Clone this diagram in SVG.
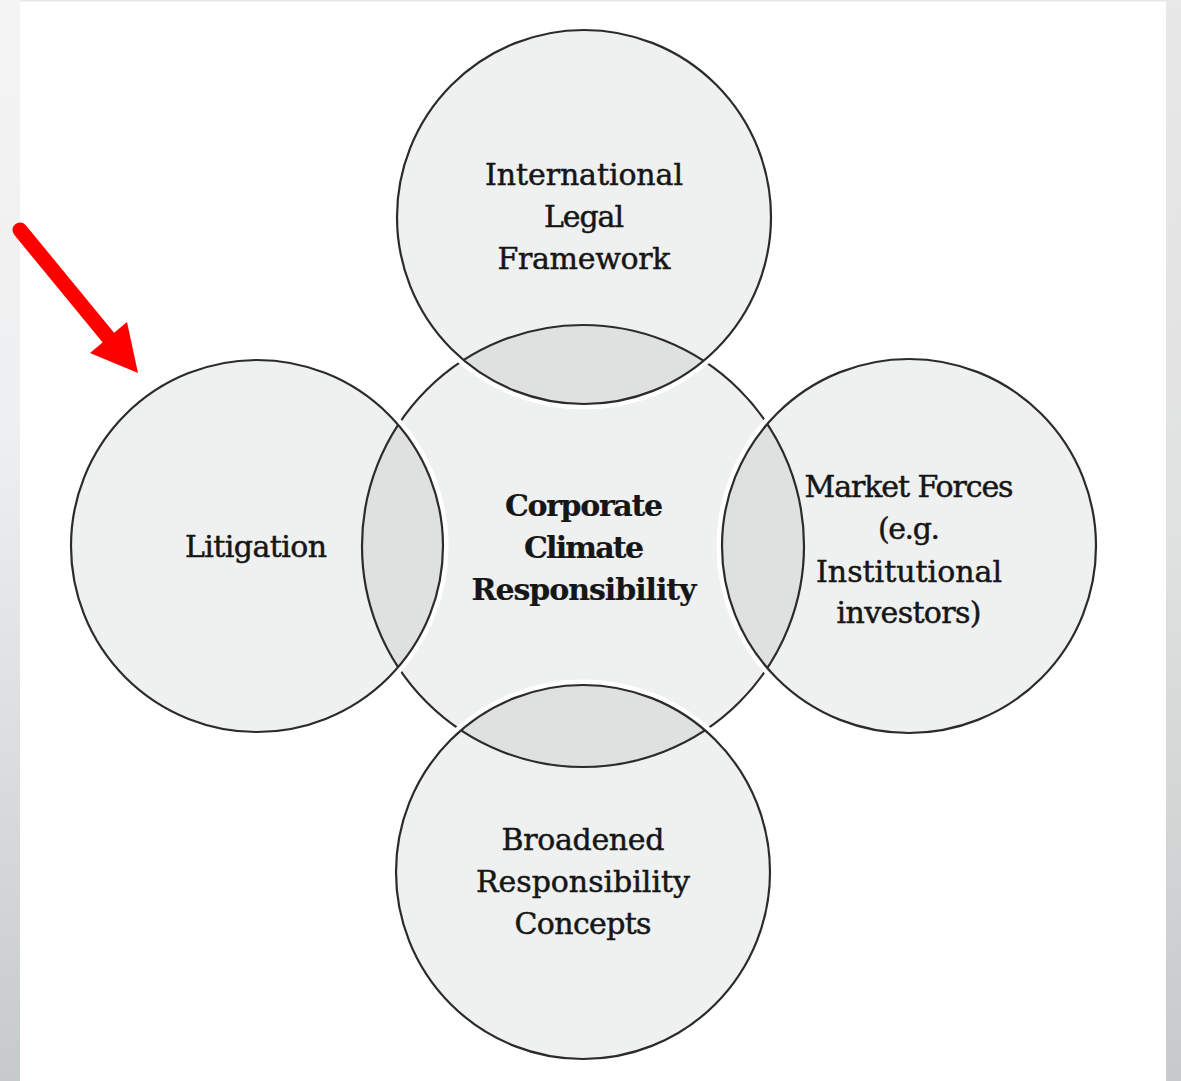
<svg xmlns="http://www.w3.org/2000/svg" width="1181" height="1081" viewBox="0 0 1181 1081">
<style>
.fill{fill:#eff0f0}
.lens{fill:#dfe0e0}
.ol{fill:none;stroke:#2b2b2b;stroke-width:2.2}
.halo{fill:none;stroke:#ffffff;stroke-width:5}
.t{font-family:"DejaVu Serif","Liberation Serif",serif;font-size:30px;fill:#161616;stroke:#161616;stroke-width:0.5;text-anchor:middle}
.b{font-weight:bold;stroke-width:0.2}
</style>
<defs>
<linearGradient id="lg" x1="0" y1="0" x2="0" y2="1">
<stop offset="0" stop-color="#f4f4f5"/>
<stop offset="0.4" stop-color="#eeeff0"/>
<stop offset="1" stop-color="#c7cacb"/>
</linearGradient>
<linearGradient id="rg" x1="0" y1="0" x2="0" y2="1">
<stop offset="0" stop-color="#e8e8e8"/>
<stop offset="0.5" stop-color="#e0e1e1"/>
<stop offset="1" stop-color="#c7cacb"/>
</linearGradient>
<clipPath id="cT"><circle cx="584" cy="217" r="187"/></clipPath>
<clipPath id="cL"><circle cx="257" cy="546" r="186"/></clipPath>
<clipPath id="cR"><circle cx="909" cy="546" r="187"/></clipPath>
<clipPath id="cB"><circle cx="583" cy="872" r="187"/></clipPath>
</defs>
<rect x="0" y="0" width="1181" height="1081" fill="#ffffff"/>
<rect x="0" y="0" width="20" height="1081" fill="url(#lg)"/>
<rect x="1166" y="0" width="15" height="1081" fill="url(#rg)"/>
<rect x="20" y="0" width="1146" height="1.5" fill="#e6e6e6"/>

<g id="fills">
<circle class="fill" cx="583" cy="546" r="221"/>
<circle class="fill" cx="584" cy="217" r="187"/>
<circle class="fill" cx="257" cy="546" r="186"/>
<circle class="fill" cx="909" cy="546" r="187"/>
<circle class="fill" cx="583" cy="872" r="187"/>
<circle class="lens" cx="583" cy="546" r="221" clip-path="url(#cT)"/>
<circle class="lens" cx="583" cy="546" r="221" clip-path="url(#cL)"/>
<circle class="lens" cx="583" cy="546" r="221" clip-path="url(#cR)"/>
<circle class="lens" cx="583" cy="546" r="221" clip-path="url(#cB)"/>
</g>

<g id="node-center">
<circle class="ol" cx="583" cy="546" r="221"/>
</g>

<g id="halos">
<circle class="halo" cx="584" cy="217" r="190"/>
<circle class="halo" cx="257" cy="546" r="189"/>
<circle class="halo" cx="909" cy="546" r="190"/>
<circle class="halo" cx="583" cy="872" r="190"/>
</g>

<g id="node-top">
<circle class="ol" cx="584" cy="217" r="187"/>
<text class="t" x="584" y="185" textLength="198" lengthAdjust="spacing">International</text>
<text class="t" x="584" y="227" textLength="80" lengthAdjust="spacing">Legal</text>
<text class="t" x="584" y="269" textLength="173" lengthAdjust="spacing">Framework</text>
</g>

<g id="node-left">
<circle class="ol" cx="257" cy="546" r="186"/>
<text class="t" x="256" y="557" textLength="142" lengthAdjust="spacing">Litigation</text>
</g>

<g id="node-right">
<circle class="ol" cx="909" cy="546" r="187"/>
<text class="t" x="909" y="497" textLength="209" lengthAdjust="spacing">Market Forces</text>
<text class="t" x="909" y="539" textLength="62" lengthAdjust="spacing">(e.g.</text>
<text class="t" x="909" y="582" textLength="186" lengthAdjust="spacing">Institutional</text>
<text class="t" x="909" y="623" textLength="145" lengthAdjust="spacing">investors)</text>
</g>

<g id="node-bottom">
<circle class="ol" cx="583" cy="872" r="187"/>
<text class="t" x="583" y="850" textLength="163" lengthAdjust="spacing">Broadened</text>
<text class="t" x="583" y="892" textLength="214" lengthAdjust="spacing">Responsibility</text>
<text class="t" x="583" y="934" textLength="137" lengthAdjust="spacing">Concepts</text>
</g>

<g id="node-center-label">
<text class="t b" x="584" y="516" textLength="158" lengthAdjust="spacing">Corporate</text>
<text class="t b" x="584" y="558" textLength="120" lengthAdjust="spacing">Climate</text>
<text class="t b" x="584" y="600" textLength="225" lengthAdjust="spacing">Responsibility</text>
</g>

<g id="connectors">
<line x1="20" y1="230" x2="112" y2="342" stroke="#ff0000" stroke-width="15" stroke-linecap="round"/>
<polygon points="127,322 138,373 90,353" fill="#ff0000"/>
</g>
</svg>
